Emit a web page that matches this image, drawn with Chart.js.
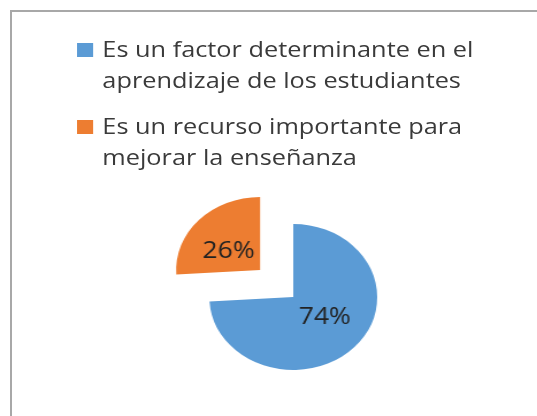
<!DOCTYPE html>
<html>
<head>
<meta charset="utf-8">
<script src="https://cdn.jsdelivr.net/npm/chart.js@4.4.1/dist/chart.umd.min.js"></script>
<style>
  html, body { margin: 0; padding: 0; background: #fff; overflow: hidden; }
  body { width: 537px; height: 416px; position: relative; }
  #frame { position: absolute; left: 10px; top: 10px; right: 0; bottom: 0; border-left: 2px solid #a8a8a8; border-top: 2px solid #a8a8a8; }
  /* the original picture is stretched sideways, so the whole stage is too */
  #stage { position: absolute; left: 0; top: 0; width: 467px; height: 416px; transform: scaleX(1.15); transform-origin: 0 0; }
  #legend { position: absolute; left: 67px; top: 33px; margin: 0; padding: 0; list-style: none; font-family: 'Open Sans', sans-serif; font-size: 22px; line-height: 31px; color: #3a3a3a; }
  #legend li { position: relative; padding-left: 22px; margin-bottom: 15px; white-space: nowrap; }
  #legend li .box { position: absolute; left: 0; top: 10px; width: 14px; height: 14px; }
  #chartBox { position: absolute; left: 0; top: 180px; width: 467px; height: 234px; }
</style>
</head>
<body>
<div id="frame"></div>
<div id="stage">
  <ul id="legend"></ul>
  <div id="chartBox"><canvas id="pieChart"></canvas></div>
</div>
<script>
const categories = [
  ['Es un factor determinante en el', 'aprendizaje de los estudiantes'],
  ['Es un recurso importante para', 'mejorar la enseñanza']
];
const percentages = [74, 26];

// legend as html so the labels can wrap like in the original
const htmlLegend = {
  id: 'htmlLegend',
  afterUpdate(chart) {
    const list = document.getElementById('legend');
    list.innerHTML = '';
    chart.data.labels.forEach((label, i) => {
      const li = document.createElement('li');
      const box = document.createElement('span');
      box.className = 'box';
      box.style.background = chart.data.datasets[0].backgroundColor[i];
      li.appendChild(box);
      [].concat(label).forEach((line, j) => {
        if (j) li.appendChild(document.createElement('br'));
        li.appendChild(document.createTextNode(line));
      });
      list.appendChild(li);
    });
  }
};

// percent labels inside the slices
const sliceLabels = {
  id: 'sliceLabels',
  afterDatasetsDraw(chart) {
    const ctx = chart.ctx;
    const meta = chart.getDatasetMeta(0);
    ctx.save();
    ctx.font = '23px "Open Sans"';
    ctx.fillStyle = '#222';
    ctx.textAlign = 'center';
    ctx.textBaseline = 'middle';
    meta.data.forEach((arc, i) => {
      const p = arc.getProps(['x', 'y', 'startAngle', 'endAngle', 'outerRadius'], true);
      const mid = (p.startAngle + p.endAngle) / 2;
      const shift = (arc.options.offset || 0) / 4; // arc offset is drawn at 1/4
      const cx = p.x + Math.cos(mid) * shift;
      const cy = p.y + Math.sin(mid) * shift;
      const a = mid - 0.14;
      const r = p.outerRadius * 0.46;
      ctx.fillText(chart.data.datasets[0].data[i] + '%', cx + Math.cos(a) * r, cy + Math.sin(a) * r + 1);
    });
    ctx.restore();
  }
};

const ctx = document.getElementById('pieChart').getContext('2d');
const pieChart = new Chart(ctx, {
  type: 'pie',
  data: {
    labels: categories,
    datasets: [{
      data: percentages,
      backgroundColor: ['#5b9bd5', '#ed7d31'],
      borderWidth: 0,
      offset: [0, 158]
    }]
  },
  options: {
    responsive: true,
    maintainAspectRatio: false,
    animation: false,
    radius: 73,
    layout: { padding: { left: 43 } },
    plugins: {
      legend: { display: false },
      tooltip: { enabled: false }
    }
  },
  plugins: [htmlLegend, sliceLabels]
});
</script>
</body>
</html>
